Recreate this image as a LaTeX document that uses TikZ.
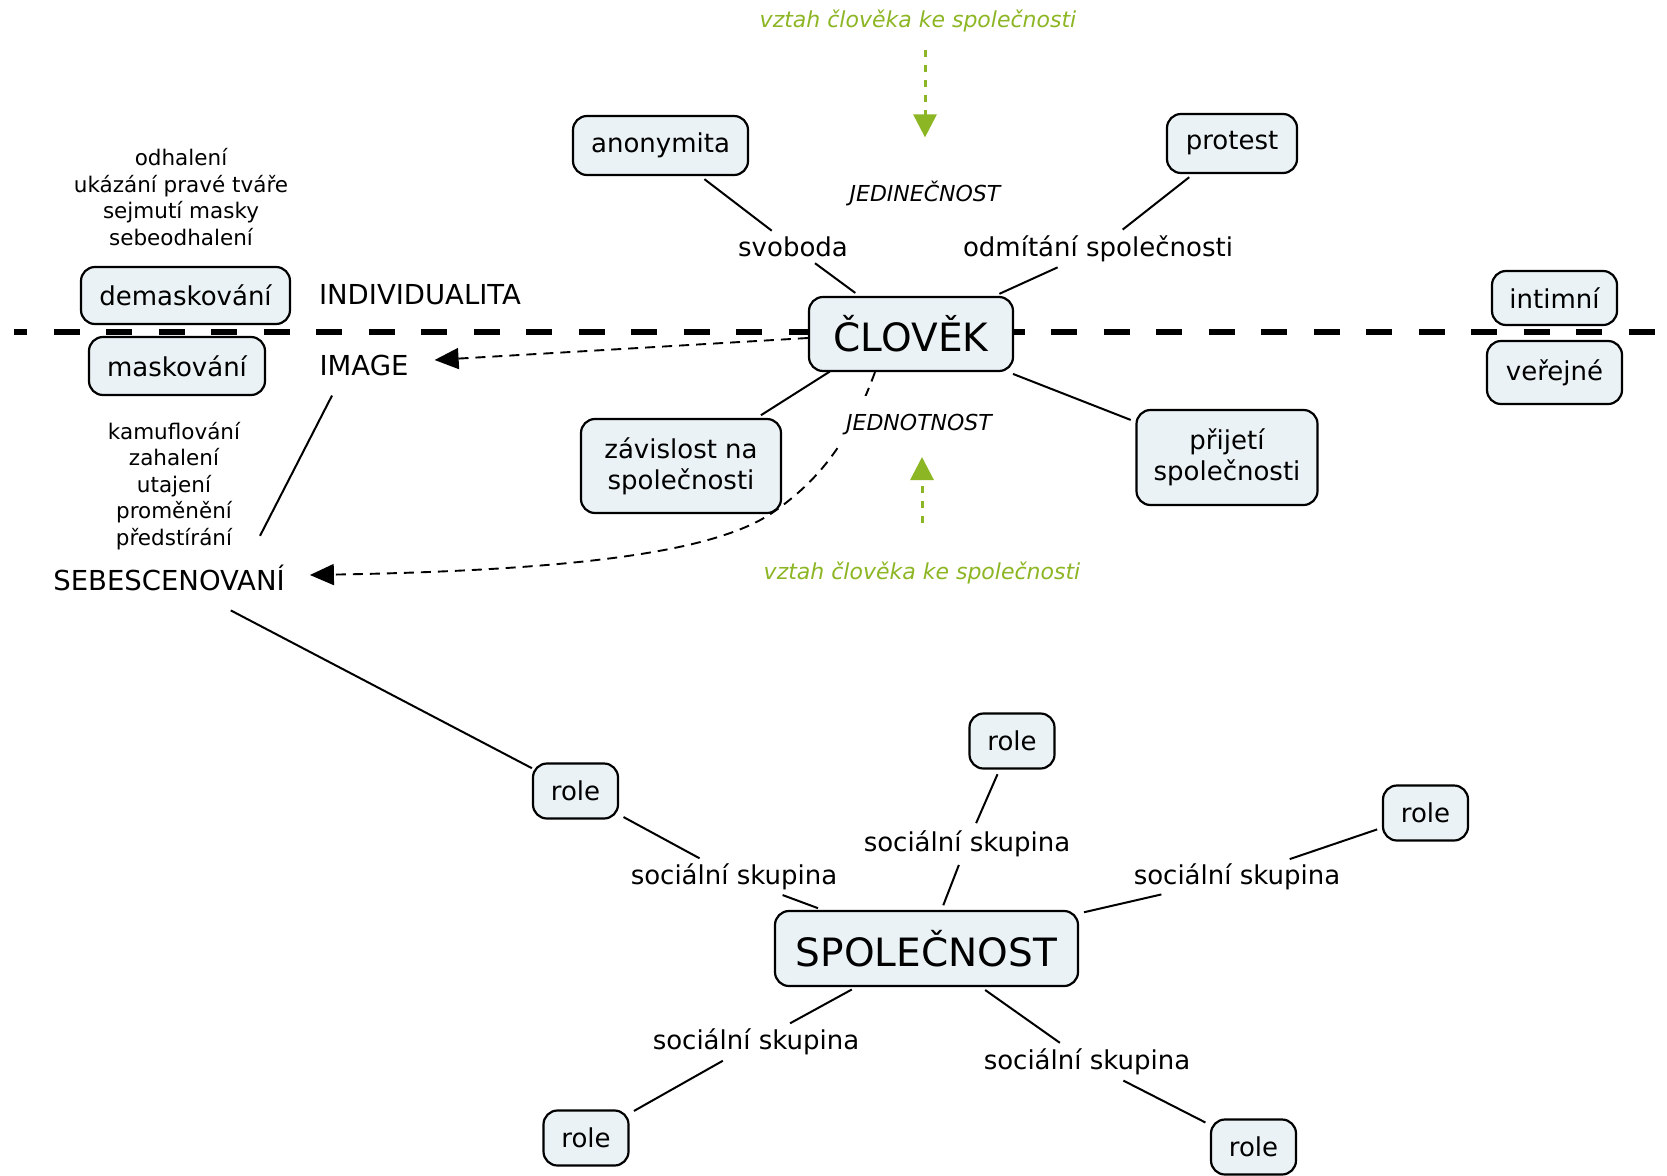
\documentclass[tikz,border=0pt]{standalone}
\usepackage{fontspec}
\setmainfont{DejaVu Sans}
\usetikzlibrary{arrows.meta,calc}
\definecolor{boxfill}{RGB}{234,242,245}
\definecolor{grn}{RGB}{141,182,36}
\newcommand\myN{\fontsize{26}{31}\selectfont}
\newcommand\myC{\fontsize{27.5}{32}\selectfont}
\newcommand\myS{\fontsize{21.5}{26.4}\selectfont}
\newcommand\myB{\fontsize{39}{46}\selectfont}
\newcommand\myI{\fontsize{22}{26}\selectfont\itshape}
\begin{document}
\begin{tikzpicture}[x=1pt,y=-1pt,
  box/.style={draw=black, line width=2.2pt, rounded corners=14pt, fill=boxfill, align=center, inner sep=0pt, font=\myN},
  rolebox/.style={box, minimum width=85pt, minimum height=55pt},
  lab/.style={inner sep=3pt, font=\myN, align=center},
  con/.style={line width=2pt, shorten <=5pt, shorten >=5pt},
  darrow/.style={line width=1.9pt, dash pattern=on 10pt off 7pt, -{Triangle[length=24pt,width=21pt]}},
  garrow/.style={draw=grn, line width=3pt, dash pattern=on 7pt off 8pt, -{Triangle[length=23pt,width=23pt]}},
]
\fill[white] (0,0) rectangle (1667,1175);
\useasboundingbox (0,0) rectangle (1667,1175);

% thick dividing line
\draw[line width=6pt, dash pattern=on 26pt off 26.5pt, dash phase=13pt] (14,332) -- (1667,332);

% boxes
\node[box, minimum width=175pt, minimum height=59pt] (anon) at (660.5,145.5) {anonymita};
\node[box, minimum width=130pt, minimum height=59pt] (prot) at (1232,143.5) {protest};
\node[box, font=\myB, minimum width=204pt, minimum height=74pt] (clov) at (911,334) {ČLOVĚK};
\node[box, minimum width=200pt, minimum height=94pt] (zav) at (681,466) {závislost na\\společnosti};
\node[box, minimum width=181pt, minimum height=95pt] (prij) at (1227,457.5) {přijetí\\společnosti};
\node[box, minimum width=209pt, minimum height=57pt] (demask) at (185.5,295.5) {demaskování};
\node[box, minimum width=176pt, minimum height=58pt] (mask) at (177,366) {maskování};
\node[box, minimum width=125pt, minimum height=54pt] (intim) at (1554.5,298) {intimní};
\node[box, minimum width=135pt, minimum height=63pt] (verej) at (1554.5,372.5) {veřejné};
\node[box, font=\myB, minimum width=303pt, minimum height=75pt] (spol) at (926.5,948.5) {SPOLEČNOST};
\node[rolebox] (r1) at (575.5,791) {role};
\node[rolebox] (r2) at (1012,741) {role};
\node[rolebox] (r3) at (1425.5,813) {role};
\node[rolebox] (r4) at (586,1138) {role};
\node[rolebox] (r5) at (1253.5,1147) {role};

% labels
\node[lab] (svob) at (793,247) {svoboda};
\node[lab] (odm) at (1098,249) {odmítání společnosti};
\node[lab, font=\myI] (jed) at (925,193) {JEDINEČNOST};
\node[lab, font=\myC] (indiv) at (420,295) {INDIVIDUALITA};
\node[lab, font=\myC] (img) at (364,365) {IMAGE};
\node[lab, font=\myS] (odhal) at (181,197) {odhalení\\ukázání pravé tváře\\sejmutí masky\\sebeodhalení};
\node[lab, font=\myS] (kamuf) at (174,486) {kamuflování\\zahalení\\utajení\\proměnění\\předstírání};
\node[lab, font=\myC] (seb) at (169,578) {SEBESCENOVANÍ};
\node[lab, font=\myI, text=grn] (gtop) at (918,21) {vztah člověka ke společnosti};
\node[lab, font=\myI, text=grn] (gbot) at (922,573) {vztah člověka ke společnosti};
\node[lab] (ss1) at (734,877) {sociální skupina};
\node[lab] (ss2) at (967,844) {sociální skupina};
\node[lab] (ss3) at (1237,877) {sociální skupina};
\node[lab] (ss4) at (756,1042) {sociální skupina};
\node[lab] (ss5) at (1087,1062) {sociální skupina};

% connectors
\draw[con] (anon) -- (svob);
\draw[con] (svob) -- (clov);
\draw[con] (prot) -- (odm);
\draw[con] (odm) -- (clov);
\draw[con, shorten <=70pt] ([xshift=-22pt]clov.center) -- (zav);
\draw[con] (clov) -- (prij);
\draw[con] (r1) -- (ss1);
\draw[con] (ss1) -- (spol);
\draw[con] (r2) -- (ss2);
\draw[con] (ss2) -- (spol);
\draw[con] (r3) -- (ss3);
\draw[con] (ss3) -- (spol);
\draw[con] (spol) -- (ss4);
\draw[con] (ss4) -- (r4);
\draw[con] (spol) -- (ss5);
\draw[con] (ss5) -- (r5);
\draw[con, shorten <=35pt, shorten >=0pt] (seb) -- (r1);
\draw[line width=2pt] ($(img.south)+(-32,17)$) -- ($(seb.north)+(91,-26)$);

% dashed arrows
\draw[darrow] ([yshift=-4pt]clov.west) -- ($(img.east)+(23,-5)$);
\draw[darrow] ([xshift=-36pt]clov.south) .. controls (850,440) and (820,480) .. (772,513)
  .. controls (720,548) and (600,570) .. ($(seb.east)+(22,-3)$);

\node[lab, font=\myI, fill=white, inner xsep=6pt, inner ysep=19pt] (jedn) at (919,425) {JEDNOTNOST};

% green arrows
\draw[garrow, shorten <=29pt, shorten >=40pt] (jed |- gtop) -- (jed);
\draw[garrow, shorten <=36pt, shorten >=32pt] (gbot) -- (gbot |- jedn);
\end{tikzpicture}
\end{document}
